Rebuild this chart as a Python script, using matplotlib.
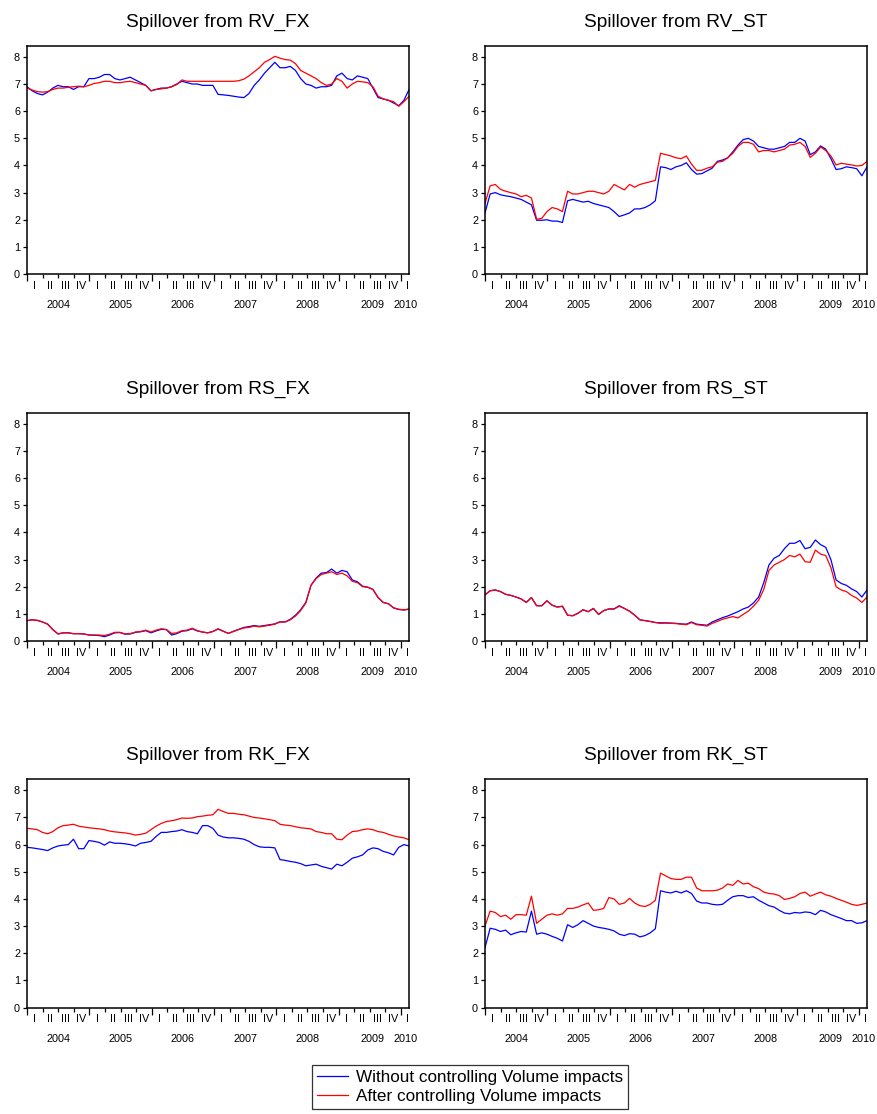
import matplotlib.pyplot as plt
import numpy as np

plt.rcParams['font.family'] = ['Liberation Sans', 'DejaVu Sans']

# roughly monthly observations, Jan 2004 .. mid Feb 2010
dates = np.linspace(2004.0, 2010.13, 75)

rv_fx_without = [6.90, 6.75, 6.65, 6.60, 6.70, 6.85, 6.95, 6.90, 6.90, 6.80,
                 6.90, 6.90, 7.20, 7.20, 7.25, 7.35, 7.35, 7.20, 7.15, 7.20,
                 7.25, 7.15, 7.05, 6.95, 6.75, 6.80, 6.85, 6.85, 6.90, 7.00,
                 7.10, 7.05, 7.00, 7.00, 6.95, 6.95, 6.95, 6.62, 6.60, 6.58,
                 6.55, 6.52, 6.50, 6.65, 6.95, 7.15, 7.40, 7.60, 7.80, 7.60,
                 7.60, 7.65, 7.50, 7.20, 7.00, 6.95, 6.85, 6.90, 6.90, 6.95,
                 7.30, 7.40, 7.20, 7.15, 7.30, 7.25, 7.20, 6.85, 6.50, 6.45,
                 6.40, 6.30, 6.20, 6.40, 6.80]
rv_fx_after = [6.85, 6.78, 6.72, 6.70, 6.72, 6.80, 6.85, 6.85, 6.88, 6.90,
               6.92, 6.90, 6.95, 7.02, 7.05, 7.10, 7.10, 7.05, 7.05, 7.08,
               7.10, 7.05, 7.00, 6.95, 6.75, 6.80, 6.82, 6.85, 6.90, 6.98,
               7.15, 7.10, 7.10, 7.10, 7.10, 7.10, 7.10, 7.10, 7.10, 7.10,
               7.10, 7.12, 7.18, 7.30, 7.45, 7.60, 7.80, 7.90, 8.02, 7.95,
               7.90, 7.88, 7.75, 7.50, 7.40, 7.30, 7.20, 7.05, 6.95, 7.00,
               7.20, 7.10, 6.85, 7.00, 7.10, 7.08, 7.05, 6.90, 6.55, 6.45,
               6.40, 6.35, 6.18, 6.35, 6.55]

rv_st_without = [2.25, 2.95, 3.00, 2.92, 2.88, 2.85, 2.80, 2.75, 2.65, 2.55,
                 1.98, 1.98, 2.00, 1.95, 1.95, 1.90, 2.70, 2.75, 2.70, 2.65,
                 2.68, 2.60, 2.55, 2.50, 2.45, 2.30, 2.12, 2.18, 2.25, 2.40,
                 2.40, 2.45, 2.55, 2.70, 3.95, 3.92, 3.85, 3.95, 4.00, 4.10,
                 3.85, 3.68, 3.70, 3.80, 3.90, 4.15, 4.20, 4.28, 4.50, 4.75,
                 4.95, 5.00, 4.90, 4.70, 4.65, 4.60, 4.60, 4.65, 4.70, 4.85,
                 4.85, 5.00, 4.90, 4.40, 4.50, 4.72, 4.60, 4.25, 3.85, 3.88,
                 3.95, 3.92, 3.88, 3.62, 3.95]
rv_st_after = [2.60, 3.25, 3.30, 3.12, 3.05, 3.00, 2.95, 2.85, 2.90, 2.80,
               2.02, 2.05, 2.30, 2.45, 2.40, 2.30, 3.05, 2.95, 2.95, 3.00,
               3.05, 3.05, 3.00, 2.95, 3.05, 3.30, 3.20, 3.10, 3.30, 3.20,
               3.30, 3.35, 3.40, 3.45, 4.45, 4.40, 4.35, 4.28, 4.25, 4.35,
               4.05, 3.82, 3.82, 3.90, 3.95, 4.12, 4.15, 4.28, 4.45, 4.70,
               4.85, 4.85, 4.78, 4.50, 4.55, 4.55, 4.50, 4.55, 4.60, 4.75,
               4.78, 4.85, 4.70, 4.30, 4.45, 4.68, 4.55, 4.35, 4.02, 4.08,
               4.05, 4.02, 3.98, 4.00, 4.15]

rs_fx_without = [0.75, 0.78, 0.76, 0.70, 0.62, 0.42, 0.26, 0.30, 0.30, 0.27,
                 0.27, 0.26, 0.22, 0.21, 0.20, 0.16, 0.22, 0.30, 0.31, 0.25,
                 0.26, 0.32, 0.34, 0.38, 0.30, 0.37, 0.43, 0.42, 0.22, 0.27,
                 0.36, 0.38, 0.45, 0.37, 0.33, 0.30, 0.35, 0.44, 0.36, 0.28,
                 0.36, 0.43, 0.50, 0.53, 0.57, 0.54, 0.57, 0.60, 0.63, 0.71,
                 0.70, 0.80, 0.95, 1.15, 1.42, 2.05, 2.32, 2.50, 2.52, 2.65,
                 2.50, 2.60, 2.55, 2.25, 2.18, 2.02, 1.98, 1.90, 1.60, 1.42,
                 1.37, 1.22, 1.16, 1.14, 1.17]
rs_fx_after = [0.75, 0.78, 0.76, 0.70, 0.62, 0.42, 0.26, 0.30, 0.30, 0.27,
               0.27, 0.26, 0.22, 0.22, 0.22, 0.20, 0.25, 0.32, 0.32, 0.26,
               0.27, 0.33, 0.35, 0.40, 0.33, 0.40, 0.45, 0.42, 0.28, 0.30,
               0.38, 0.40, 0.47, 0.38, 0.33, 0.30, 0.35, 0.45, 0.36, 0.28,
               0.35, 0.42, 0.48, 0.50, 0.55, 0.52, 0.55, 0.58, 0.62, 0.70,
               0.70, 0.78, 0.92, 1.12, 1.40, 2.05, 2.30, 2.45, 2.50, 2.55,
               2.45, 2.50, 2.40, 2.20, 2.15, 2.00, 1.98, 1.90, 1.60, 1.42,
               1.37, 1.22, 1.17, 1.15, 1.18]

rs_st_without = [1.70, 1.85, 1.88, 1.82, 1.72, 1.68, 1.62, 1.55, 1.42, 1.60,
                 1.30, 1.30, 1.48, 1.32, 1.25, 1.28, 0.95, 0.93, 1.02, 1.15,
                 1.08, 1.20, 0.98, 1.12, 1.18, 1.18, 1.30, 1.20, 1.10, 0.95,
                 0.78, 0.75, 0.72, 0.68, 0.67, 0.67, 0.66, 0.65, 0.63, 0.62,
                 0.70, 0.62, 0.60, 0.58, 0.70, 0.78, 0.86, 0.92, 1.00, 1.08,
                 1.18, 1.25, 1.40, 1.62, 2.15, 2.80, 3.05, 3.15, 3.40, 3.60,
                 3.60, 3.70, 3.40, 3.45, 3.72, 3.55, 3.45, 3.00, 2.25, 2.12,
                 2.05, 1.92, 1.82, 1.62, 1.88]
rs_st_after = [1.70, 1.85, 1.88, 1.82, 1.72, 1.68, 1.62, 1.55, 1.42, 1.60,
               1.30, 1.30, 1.48, 1.32, 1.25, 1.28, 0.95, 0.93, 1.02, 1.15,
               1.08, 1.20, 0.98, 1.12, 1.18, 1.18, 1.28, 1.20, 1.10, 0.95,
               0.78, 0.75, 0.72, 0.68, 0.65, 0.66, 0.65, 0.64, 0.62, 0.60,
               0.68, 0.60, 0.58, 0.55, 0.65, 0.72, 0.80, 0.85, 0.90, 0.85,
               0.98, 1.10, 1.28, 1.50, 1.90, 2.60, 2.80, 2.90, 3.00, 3.15,
               3.10, 3.20, 2.92, 2.90, 3.35, 3.20, 3.15, 2.70, 2.00, 1.88,
               1.82, 1.68, 1.58, 1.42, 1.62]

rk_fx_without = [5.90, 5.88, 5.85, 5.82, 5.78, 5.88, 5.95, 5.98, 6.00, 6.20,
                 5.85, 5.85, 6.15, 6.12, 6.08, 5.98, 6.10, 6.05, 6.05, 6.03,
                 6.00, 5.95, 6.05, 6.08, 6.12, 6.30, 6.45, 6.45, 6.48, 6.50,
                 6.55, 6.48, 6.45, 6.40, 6.70, 6.70, 6.60, 6.35, 6.28, 6.25,
                 6.25, 6.23, 6.20, 6.12, 6.00, 5.92, 5.90, 5.90, 5.88, 5.45,
                 5.42, 5.38, 5.35, 5.30, 5.22, 5.25, 5.28, 5.20, 5.15, 5.10,
                 5.28, 5.22, 5.35, 5.50, 5.55, 5.62, 5.80, 5.88, 5.85, 5.75,
                 5.70, 5.62, 5.90, 6.00, 5.95]
rk_fx_after = [6.60, 6.58, 6.55, 6.45, 6.40, 6.48, 6.62, 6.70, 6.72, 6.75,
               6.68, 6.65, 6.62, 6.60, 6.58, 6.55, 6.50, 6.47, 6.45, 6.43,
               6.40, 6.35, 6.38, 6.42, 6.55, 6.68, 6.78, 6.85, 6.88, 6.92,
               6.98, 6.97, 6.98, 7.03, 7.05, 7.08, 7.10, 7.30, 7.22, 7.15,
               7.15, 7.12, 7.10, 7.05, 7.00, 6.98, 6.95, 6.92, 6.88, 6.75,
               6.72, 6.70, 6.66, 6.62, 6.60, 6.58, 6.48, 6.45, 6.40, 6.40,
               6.20, 6.18, 6.35, 6.48, 6.50, 6.55, 6.58, 6.55, 6.48, 6.45,
               6.38, 6.32, 6.28, 6.25, 6.18]

rk_st_without = [2.20, 2.92, 2.88, 2.80, 2.85, 2.68, 2.75, 2.80, 2.78, 3.55,
                 2.70, 2.75, 2.70, 2.62, 2.55, 2.45, 3.05, 2.95, 3.05, 3.20,
                 3.10, 3.00, 2.95, 2.92, 2.88, 2.82, 2.70, 2.65, 2.72, 2.70,
                 2.60, 2.65, 2.75, 2.90, 4.30, 4.25, 4.22, 4.28, 4.22, 4.30,
                 4.20, 3.92, 3.85, 3.85, 3.80, 3.78, 3.80, 3.95, 4.08, 4.12,
                 4.12, 4.05, 4.08, 3.95, 3.85, 3.75, 3.70, 3.58, 3.48, 3.45,
                 3.50, 3.48, 3.52, 3.50, 3.42, 3.58, 3.52, 3.42, 3.35, 3.28,
                 3.20, 3.20, 3.10, 3.12, 3.20]
rk_st_after = [3.00, 3.55, 3.50, 3.35, 3.40, 3.25, 3.42, 3.42, 3.40, 4.10,
               3.10, 3.25, 3.40, 3.45, 3.40, 3.45, 3.65, 3.65, 3.70, 3.78,
               3.85, 3.58, 3.60, 3.65, 4.05, 4.00, 3.80, 3.85, 4.02, 3.85,
               3.75, 3.72, 3.80, 3.95, 4.95, 4.85, 4.75, 4.72, 4.72, 4.80,
               4.80, 4.40, 4.30, 4.30, 4.30, 4.32, 4.40, 4.55, 4.50, 4.68,
               4.55, 4.58, 4.45, 4.38, 4.25, 4.20, 4.18, 4.12, 3.98, 4.02,
               4.08, 4.20, 4.25, 4.10, 4.18, 4.25, 4.15, 4.10, 4.02, 3.95,
               3.88, 3.80, 3.76, 3.80, 3.85]

panels = [("RV_FX", rv_fx_without, rv_fx_after),
          ("RV_ST", rv_st_without, rv_st_after),
          ("RS_FX", rs_fx_without, rs_fx_after),
          ("RS_ST", rs_st_without, rs_st_after),
          ("RK_FX", rk_fx_without, rk_fx_after),
          ("RK_ST", rk_st_without, rk_st_after)]

years = list(range(2004, 2011))
year_label_pos = [2004.5, 2005.5, 2006.5, 2007.5, 2008.5, 2009.55, 2010.08]
quarters = [y + q / 4 for y in range(2004, 2010) for q in range(1, 4)]
roman = ['I', 'II', 'III', 'IV']

fig = plt.figure(figsize=(8.77, 11.14), dpi=100)
lefts = [0.0308, 0.553]
bottoms = [0.754, 0.4246, 0.0956]
w, h = 0.436, 0.2047

for i, (name, without, after) in enumerate(panels):
    ax = fig.add_axes([lefts[i % 2], bottoms[i // 2], w, h])
    ax.plot(dates, without, color='blue', lw=0.9,
            label='Without controlling Volume impacts')
    ax.plot(dates, after, color='red', lw=0.9,
            label='After controlling Volume impacts')
    ax.set_xlim(2004.0, 2010.135)
    ax.set_ylim(0, 8.4)
    ax.set_yticks(range(9))
    ax.set_xticks(years)
    ax.set_xticks(quarters, minor=True)
    ax.tick_params(axis='x', which='major', length=5, width=0.9, labelbottom=False)
    ax.tick_params(axis='x', which='minor', length=3, width=0.9)
    ax.tick_params(axis='y', length=3, width=0.9, pad=2, labelsize=7.8)
    for s in ax.spines.values():
        s.set_linewidth(1.1)
    ax.set_title('Spillover from ' + name, fontsize=13.8, pad=14)

    # quarter labels under the axis
    for y in range(2004, 2010):
        for q in range(4):
            ax.annotate(roman[q], xy=(y + q / 4 + 0.125, 0),
                        xycoords=('data', 'axes fraction'),
                        xytext=(0, -5), textcoords='offset points',
                        ha='center', va='top', fontsize=7.8)
    ax.annotate('I', xy=(2010.1, 0), xycoords=('data', 'axes fraction'),
                xytext=(0, -5), textcoords='offset points',
                ha='center', va='top', fontsize=7.8)
    for yr, xp in zip(years, year_label_pos):
        ax.annotate(str(yr), xy=(xp, 0), xycoords=('data', 'axes fraction'),
                    xytext=(0, -19), textcoords='offset points',
                    ha='center', va='top', fontsize=7.8)
    if i == 0:
        handles, labels = ax.get_legend_handles_labels()

leg = fig.legend(handles, labels, loc='center', bbox_to_anchor=(0.536, 0.0242),
                 fontsize=12.3, frameon=True, fancybox=False, handlelength=1.8,
                 handletextpad=0.5, borderpad=0.3, labelspacing=0.2)
leg.get_frame().set_edgecolor('black')
leg.get_frame().set_linewidth(0.9)

fig.savefig('out.png', dpi=100)
